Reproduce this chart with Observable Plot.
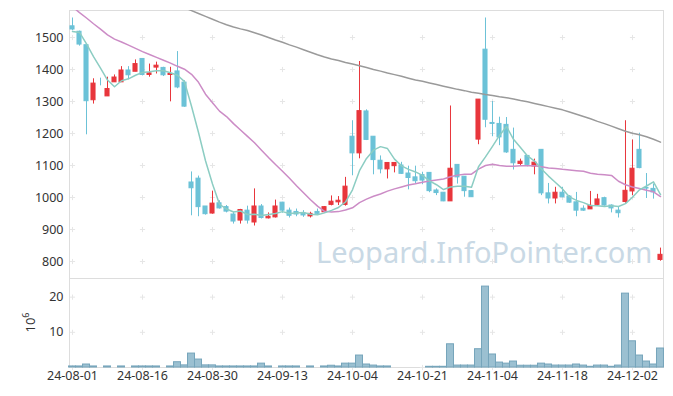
<!DOCTYPE html>
<html>
<head>
<meta charset="utf-8">
<script src="https://cdn.jsdelivr.net/npm/d3@7"></script>
<script src="https://cdn.jsdelivr.net/npm/@observablehq/plot@0.6"></script>
<style>
  body { margin: 0; background: #fff; }
  #chart svg { display: block; }
</style>
</head>
<body>
<div id="chart"></div>
<script>
// ---- data (trading-day index 0..84, 2024-08-01 .. 2024-12-06) ----
const tickIndex  = [0, 10, 20, 30, 40, 50, 60, 70, 80];
const tickLabels = ["24-08-01","24-08-16","24-08-30","24-09-13","24-10-04","24-10-21","24-11-04","24-11-18","24-12-02"];
const priceTicks = [800, 900, 1000, 1100, 1200, 1300, 1400, 1500];
const volTicks   = [0, 10, 20];

const open  = [1535,1518,1476,1304,1360,1316,1360,1360,1397,1393,1433,1383,1406,1405,1383,1394,1359,1047,1059,972,
               950,982,970,947,928,959,922,972,935,938,984,959,955,951,941,955,954,977,985,977,
               1190,1138,1269,1190,1115,1088,1098,1100,1075,1063,1070,1077,1022,1015,988,1102,1065,1020,1181,1462,
               1233,1230,1227,1149,1105,1130,1097,1149,1013,997,1015,1003,985,965,963,977,998,975,959,986,
               1019,1149,1030,1027,805];
const high  = [1561,1520,1478,1371,1373,1376,1383,1409,1409,1430,1433,1417,1423,1407,1407,1456,1365,1080,1067,972,
               1020,990,975,954,963,973,1027,978,952,992,985,967,964,959,954,964,972,1005,1003,1063,
               1240,1425,1274,1190,1130,1108,1108,1110,1098,1098,1079,1077,1027,1015,1286,1102,1065,1022,1306,1561,
               1300,1251,1250,1217,1120,1130,1120,1149,1044,1032,1032,1006,1016,974,1019,1010,1001,977,970,1240,
               1180,1201,1075,1042,842];
const low   = [1521,1473,1196,1292,1349,1316,1360,1360,1368,1393,1380,1376,1386,1378,1299,1340,1282,943,940,945,
               948,964,952,917,917,917,911,933,933,936,951,936,940,938,936,947,952,974,975,973,
               1068,1121,1178,1071,1074,1058,1077,1072,1024,1043,1040,1015,1006,987,988,1042,1001,1001,1165,1218,
               1190,1162,1138,1086,1100,1096,1071,1006,980,980,999,982,940,957,963,975,973,952,936,982,
               1006,1090,997,995,801];
const close = [1525,1478,1301,1356,1360,1339,1375,1397,1382,1417,1383,1388,1412,1382,1386,1344,1284,1029,970,948,
               981,966,956,925,961,928,972,936,940,972,959,943,947,944,949,949,970,987,990,1034,
               1138,1270,1180,1117,1088,1108,1108,1074,1061,1051,1053,1020,1014,988,1090,1063,1020,1001,1306,1243,
               1230,1188,1141,1107,1112,1102,1109,1013,997,1015,1001,984,959,959,974,994,975,966,951,1021,
               1090,1092,1028,1016,821];
// volume in millions of shares
const volume = [0.3,0.3,0.85,0.3,0,0.3,0,0.3,0,0.3,0.3,0.3,0.3,0,0.3,1.5,0.6,3.96,2.26,0.6,
                0.6,0.3,0.3,0.3,0.3,0.3,0.3,1.1,0.3,0,0.3,0.3,0.3,0,0.3,0,0.3,0.5,0.3,1.1,
                1.1,3.4,0.85,0.55,0.3,0.3,0,0,0,0,0,0.2,0.2,0.2,6.6,0.55,0.55,0.55,5.2,23.0,
                3.7,1.4,1.1,1.7,0.5,0.5,0.5,1.1,0.85,0.55,0.55,0.55,0.85,0.55,0.2,0.55,0.55,0.2,0.55,21.0,
                7.45,3.4,1.7,0.85,5.4];
// moving averages
const ma5  = [1519,1516,1480,1440,1404,1367,1346,1365,1371,1382,1391,1393,1396,1396,1390,1382,1362,1285,1203,1115,
              1042,979,964,955,958,947,948,944,947,950,956,950,952,953,948,946,952,960,969,986,
              1024,1084,1122,1148,1159,1153,1120,1099,1088,1080,1069,1052,1040,1025,1033,1035,1035,1032,1096,1127,
              1160,1194,1222,1182,1156,1130,1114,1089,1067,1047,1027,1002,991,984,975,974,972,974,972,981,
              1001,1024,1036,1049,1009];
const ma20 = [1596,1578,1561,1543,1526,1508,1495,1486,1476,1466,1456,1447,1438,1429,1420,1410,1401,1385,1360,1323,
              1296,1270,1253,1231,1211,1191,1171,1148,1125,1103,1082,1060,1037,1015,993,973,957,955,956,961,
              968,984,995,1004,1011,1020,1027,1033,1039,1043,1048,1052,1055,1058,1065,1070,1073,1073,1089,1100,
              1104,1100,1098,1098,1099,1099,1099,1096,1092,1091,1088,1086,1084,1082,1076,1073,1071,1069,1051,1040,
              1033,1028,1023,1018,1003];
const maLong = [null,null,null,null,null,null,null,null,null,null,null,null,null,null,1611,1602,1593,1584,1575,1566,
              1557,1548,1540,1533,1527,1522,1515,1508,1500,1492,1485,1477,1470,1462,1454,1446,1439,1433,1428,1422,
              1417,1412,1406,1400,1395,1389,1384,1379,1373,1367,1363,1358,1353,1348,1343,1338,1334,1329,1326,1322,
              1319,1315,1312,1308,1303,1299,1294,1289,1284,1279,1274,1267,1260,1253,1246,1238,1231,1223,1215,1207,
              1201,1196,1190,1182,1173];
const watermark = "Leopard.InfoPointer.com";

// ---- styling ----
const RED = "#e8363c", BLUE = "#6cc2d7";
const TEAL = "#8ccdc3", PINK = "#cc8cc6", GRAY = "#9a9a9a";
const GRID = "#dddddd", CROSS = "#e6e6e6";
const FONT = "'Noto Sans', sans-serif";

const candles = close.map((c, i) => ({
  i, o: open[i], h: high[i], l: low[i], c,
  col: c > open[i] ? RED : BLUE
}));
const vols = volume.map((v, i) => ({i, v})).filter(d => d.v > 0);
const lineData = (arr) => arr.map((v, i) => ({i, v})).filter(d => d.v != null);

const xDomain = [-0.43, 84.43];
const W = 673;

const crossesMain = tickIndex.flatMap(x => priceTicks.map(y => ({x, y})));
const crossesVol  = tickIndex.flatMap(x => volTicks.map(y => ({x, y})));

const main = Plot.plot({
  width: W, height: 278,
  marginTop: 10, marginBottom: 0, marginLeft: 69, marginRight: 10,
  style: {fontFamily: FONT, fontSize: "12.5px", color: "#333", background: "#fff"},
  x: {type: "linear", domain: xDomain, axis: null},
  y: {type: "linear", domain: [747, 1584.4], ticks: priceTicks, tickSize: 0, tickPadding: 6,
      tickFormat: d => String(d), label: null},
  marks: [
    Plot.frame({stroke: GRID}),
    Plot.dot(crossesMain, {x: "x", y: "y", symbol: "plus", r: 1.8, stroke: CROSS, strokeWidth: 1}),
    Plot.text([watermark], {frameAnchor: "bottom-right", dx: -11, dy: -16, textAnchor: "end",
      lineAnchor: "bottom", fontSize: 29, fill: "#c9d9e5", fontFamily: FONT}),
    Plot.ruleX(candles, {x: "i", y1: "l", y2: "h", stroke: "col", strokeWidth: 1}),
    Plot.rect(candles, {x1: d => d.i - 0.29, x2: d => d.i + 0.29, y1: "o", y2: "c",
      fill: "col", stroke: "col", strokeWidth: 1}),
    Plot.line(lineData(maLong), {x: "i", y: "v", stroke: GRAY, strokeWidth: 1.5, clip: true}),
    Plot.line(lineData(ma20), {x: "i", y: "v", stroke: PINK, strokeWidth: 1.5, clip: true}),
    Plot.line(lineData(ma5), {x: "i", y: "v", stroke: TEAL, strokeWidth: 1.5, clip: true})
  ]
});

const vol = Plot.plot({
  width: W, height: 118,
  marginTop: 0, marginBottom: 29, marginLeft: 69, marginRight: 10,
  style: {fontFamily: FONT, fontSize: "12.5px", color: "#333", background: "#fff"},
  x: {type: "linear", domain: xDomain, ticks: tickIndex, tickSize: 0, tickPadding: 4,
      tickFormat: d => tickLabels[tickIndex.indexOf(d)], label: null},
  y: {type: "linear", domain: [0, 25.3], ticks: [10, 20], tickSize: 0, tickPadding: 6,
      tickFormat: d => String(d), label: null},
  marks: [
    Plot.frame({stroke: GRID}),
    Plot.dot(crossesVol, {x: "x", y: "y", symbol: "plus", r: 1.8, stroke: CROSS, strokeWidth: 1}),
    Plot.rectY(vols, {x1: d => d.i - 0.5, x2: d => d.i + 0.5, y1: 0, y2: "v",
      fill: "#9bc0d1", stroke: "#76a5bb", strokeWidth: 1})
  ]
});

// y-axis unit title "10^6"
const yr = vol.scale("y").range;
const t = d3.select(vol).append("text")
  .attr("transform", `translate(35,${(yr[0] + yr[1]) / 2}) rotate(-90)`)
  .attr("text-anchor", "middle").attr("fill", "#333")
  .style("font-family", FONT).style("font-size", "13px");
t.append("tspan").text("10");
t.append("tspan").attr("baseline-shift", "super").style("font-size", "9px").text("6");

document.getElementById("chart").append(main, vol);
</script>
</body>
</html>
